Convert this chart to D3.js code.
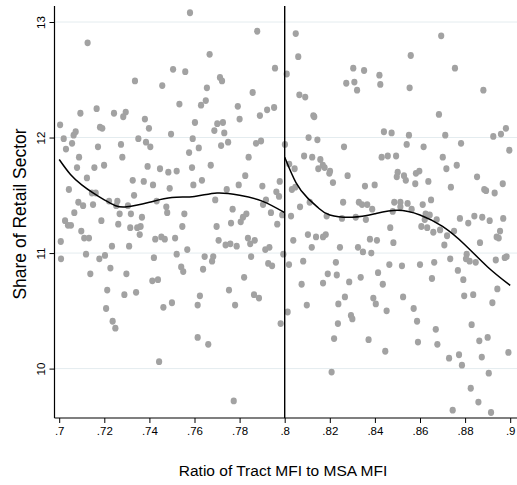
<!DOCTYPE html>
<html>
<head>
<meta charset="utf-8">
<script src="https://cdn.jsdelivr.net/npm/d3@7"></script>
<style>
  body { margin: 0; background: #fff; }
  svg { display: block; font-family: "Liberation Sans", Arial, sans-serif; }
</style>
</head>
<body>
<div id="chart"></div>
<script>
// tract ratio vs share of retail sector
const points = [
  [.7126,12.82],[.7336,12.49],[.7457,12.45],[.7505,12.59],[.7533,12.29],[.7166,12.25],[.7094,12.21],[.7243,12.21],
  [.7295,12.22],[.7284,12.18],[.7380,12.16],[.7004,12.11],[.7181,12.09],[.7191,12.08],[.7398,12.08],[.7073,12.05],
  [.7064,12.02],[.7020,11.99],[.7057,11.95],[.7496,12.03],[.7351,11.99],[.7385,11.96],[.7404,11.92],[.7030,11.90],
  [.7172,11.92],[.7274,11.94],[.7088,11.83],[.7280,11.83],
  [.7580,13.08],[.7878,12.92],[.8049,12.90],[.7667,12.72],[.8060,12.70],[.7559,12.57],[.7957,12.60],[.8009,12.55],
  [.7713,12.52],[.7722,12.49],[.7655,12.43],[.7858,12.39],[.8065,12.37],[.8091,12.35],[.7650,12.32],[.7629,12.28],
  [.7792,12.27],[.7953,12.26],[.7922,12.24],[.7890,12.19],[.7800,12.16],[.8127,12.19],[.8131,12.18],[.7602,12.13],
  [.7701,12.12],[.7726,12.13],[.7688,12.06],[.7732,12.04],[.7592,11.99],[.8106,12.00],[.8145,11.98],[.7749,11.96],
  [.7718,11.93],[.7619,11.91],[.7576,11.87],[.7873,11.95],[.7895,11.97],[.8001,11.94],[.7840,11.83],[.8086,11.84],
  [.8122,11.83],[.8158,11.81],
  [.8694,12.88],[.8559,12.71],[.8755,12.60],[.8304,12.60],[.8352,12.58],[.8420,12.54],[.8273,12.47],[.8309,12.48],
  [.8321,12.41],[.8424,12.46],[.8554,12.43],[.8881,12.41],[.8684,12.20],[.8440,12.05],[.8474,12.04],[.8551,12.02],
  [.8712,12.02],[.8925,12.01],[.8959,12.03],[.8981,12.08],[.8263,11.92],[.8541,11.94],[.8616,11.92],[.8782,11.95],
  [.8996,11.89],[.8430,11.83],[.8457,11.84],[.8494,11.84],[.8701,11.83],
  [.7392,11.75],[.7447,11.73],[.7484,11.70],[.7521,11.71],[.7079,11.74],[.7156,11.74],[.7199,11.76],[.7123,11.65],
  [.7326,11.63],[.7375,11.62],[.7416,11.59],[.7490,11.56],[.7043,11.55],[.7145,11.52],[.7162,11.52],[.7332,11.50],
  [.7085,11.44],[.7106,11.41],[.7150,11.42],[.7221,11.45],[.7258,11.45],[.7253,11.41],[.7305,11.41],[.7432,11.45],
  [.7475,11.40],[.7067,11.35],[.7268,11.34],[.7318,11.34],[.7479,11.35],[.7367,11.31],[.7026,11.28],[.7039,11.24],
  [.7052,11.24],[.7187,11.28],[.7262,11.25],[.7315,11.22],[.7346,11.22],[.7361,11.23],[.7098,11.19],[.7357,11.16],
  [.7111,11.13],[.7132,11.13],[.7426,11.12],[.7453,11.14],[.7468,11.12],[.7514,11.13],[.7007,11.10],[.7234,11.06],
  [.7310,11.06],[.7521,10.99],[.7119,10.99],[.7203,10.98],[.7008,10.95],[.7178,10.95],[.7420,10.96],[.7227,10.87],
  [.7138,10.82],[.7298,10.82],[.7413,10.76],[.7438,10.77],[.7213,10.68],[.7289,10.64],[.7341,10.66],[.7541,10.88],
  [.7589,11.74],[.7672,11.76],[.7595,11.59],[.7633,11.63],[.7825,11.67],[.7796,11.59],[.7743,11.55],[.7901,11.58],
  [.7978,11.62],[.7963,11.53],[.7975,11.49],[.7692,11.46],[.7917,11.46],[.7555,11.34],[.7769,11.38],[.7830,11.34],
  [.7815,11.31],[.7805,11.27],[.7762,11.26],[.7939,11.35],[.7989,11.33],[.7904,11.42],[.7967,11.25],[.7546,11.23],
  [.7698,11.23],[.7707,11.11],[.7738,11.07],[.7759,11.08],[.7787,11.06],[.7837,11.13],[.7847,11.08],[.7867,11.11],
  [.7568,11.03],[.7645,10.97],[.7683,10.97],[.7678,10.93],[.7851,10.97],[.7914,11.03],[.7932,11.05],[.7994,10.99],
  [.7927,10.91],[.7944,10.89],[.7550,10.84],[.7638,10.86],[.7820,10.79],[.7753,10.68],[.7624,10.63],[.7864,10.64],
  [.7886,10.61],
  [.8020,11.77],[.8044,11.73],[.8169,11.76],[.8149,11.73],[.8177,11.74],[.8201,11.71],[.8198,11.69],[.8214,11.61],
  [.8032,11.55],[.8047,11.57],[.8111,11.44],[.8068,11.40],[.8028,11.32],[.8186,11.32],[.8103,11.16],[.8139,11.14],
  [.8170,11.14],[.8182,11.16],[.8038,11.11],[.8120,11.05],[.8245,11.05],[.8019,10.90],[.8082,10.93],[.8227,10.92],
  [.8191,10.82],[.8170,10.74],[.8075,10.73],
  [.8717,11.73],[.8763,11.76],[.8279,11.67],[.8356,11.58],[.8399,11.59],[.8501,11.70],[.8497,11.66],[.8529,11.67],
  [.8537,11.63],[.8579,11.60],[.8582,11.69],[.8597,11.71],[.8637,11.62],[.8737,11.57],[.8853,11.66],[.8885,11.55],
  [.8893,11.54],[.8931,11.52],[.8967,11.60],[.8259,11.44],[.8329,11.44],[.8343,11.42],[.8366,11.42],[.8388,11.38],
  [.8486,11.44],[.8513,11.44],[.8513,11.40],[.8545,11.43],[.8612,11.42],[.8649,11.46],[.8254,11.30],[.8315,11.31],
  [.8360,11.29],[.8479,11.36],[.8563,11.38],[.8625,11.34],[.8643,11.33],[.8621,11.29],[.8674,11.29],[.8777,11.30],
  [.8841,11.32],[.8876,11.31],[.8909,11.28],[.8969,11.30],[.8814,11.26],[.8468,11.22],[.8606,11.23],[.8632,11.22],
  [.8659,11.18],[.8689,11.20],[.8720,11.15],[.8751,11.19],[.8955,11.19],[.8378,11.12],[.8409,11.11],[.8482,11.09],
  [.8708,11.07],[.8866,11.09],[.8940,11.14],[.8949,11.13],[.8325,11.05],[.8347,11.01],[.8384,11.00],[.8464,10.90],
  [.8520,10.89],[.8600,10.90],[.8663,10.92],[.8734,10.95],[.8807,10.99],[.8804,10.95],[.8820,10.93],[.8847,10.92],
  [.8936,10.94],[.8976,10.96],[.8984,10.97],[.8231,10.81],[.8286,10.75],[.8337,10.79],[.8414,10.83],[.8435,10.73],
  [.8653,10.78],[.8768,10.85],[.8792,10.77],[.8943,10.69],[.8267,10.62],[.8393,10.61],[.8525,10.62],[.8796,10.63],
  [.8836,10.64],
  [.7208,10.52],[.7237,10.41],[.7249,10.35],[.7462,10.53],[.7500,10.57],[.7443,10.06],
  [.7614,10.55],[.7780,10.55],[.7614,10.27],[.7661,10.21],[.7774,9.72],[.7982,10.39],[.8013,10.49],[.8098,10.55],
  [.8238,10.56],[.8236,10.39],[.8219,10.26],[.8208,9.97],
  [.8294,10.46],[.8300,10.43],[.8404,10.56],[.8452,10.50],[.8572,10.52],[.8587,10.41],[.8372,10.25],[.8446,10.15],
  [.8591,10.23],[.8670,10.34],[.8677,10.21],[.8729,10.09],[.8773,10.12],[.8786,10.03],[.8829,10.38],[.8921,10.57],
  [.8863,10.24],[.8900,10.27],[.8874,10.10],[.8905,9.96],[.8992,10.14],[.8825,9.83],[.8745,9.64],[.8859,9.71],
  [.8915,9.62]
]

// fitted curves either side of the cutoff
const fitLeftX = [.70, .705, .71, .715, .72, .725, .73, .74, .75, .76, .77, .78, .79, .80]
const fitLeftY = [11.81, 11.68, 11.59, 11.52, 11.46, 11.41, 11.40, 11.44, 11.48, 11.49, 11.52, 11.50, 11.45, 11.35]
const fitRightX = [.80, .805, .81, .815, .82, .83, .84, .85, .86, .87, .88, .89, .90]
const fitRightY = [11.83, 11.61, 11.48, 11.39, 11.33, 11.31, 11.34, 11.37, 11.33, 11.23, 11.07, 10.88, 10.72]

const cutoff = 0.8
const xTicks = [.7, .72, .74, .76, .78, .8, .82, .84, .86, .88, .9]
const yTicks = [10, 11, 12, 13]

const width = 517
const height = 485
const axisX = 54.5   // y axis line
const axisY = 418    // x axis line
const plotTop = 6

const svg = d3.select('#chart').append('svg')
  .attr('width', width)
  .attr('height', height)

const x = d3.scaleLinear().domain([.7, .9]).range([59.2, 510.2])
const y = d3.scaleLinear().domain([10, 13]).range([368.6, 22])

// grid
svg.append('g')
  .selectAll('line')
  .data(yTicks)
  .join('line')
  .attr('x1', axisX)
  .attr('x2', width)
  .attr('y1', d => y(d))
  .attr('y2', d => y(d))
  .attr('stroke', '#e4ecef')
  .attr('stroke-width', 1)

// points
svg.append('g')
  .selectAll('ellipse')
  .data(points)
  .join('ellipse')
  .attr('cx', d => x(d[0]))
  .attr('cy', d => y(d[1]))
  .attr('rx', 3.1)
  .attr('ry', 3.4)
  .attr('fill', '#a2a2a2')

// fitted lines
const line = d3.line()
  .x(d => x(d[0]))
  .y(d => y(d[1]))
  .curve(d3.curveNatural)

svg.append('path')
  .datum(d3.zip(fitLeftX, fitLeftY))
  .attr('d', line)
  .attr('fill', 'none')
  .attr('stroke', '#000')
  .attr('stroke-width', 1.5)

svg.append('path')
  .datum(d3.zip(fitRightX, fitRightY))
  .attr('d', line)
  .attr('fill', 'none')
  .attr('stroke', '#000')
  .attr('stroke-width', 1.5)

// cutoff line
svg.append('line')
  .attr('x1', x(cutoff)).attr('x2', x(cutoff))
  .attr('y1', plotTop).attr('y2', axisY)
  .attr('stroke', '#000')
  .attr('stroke-width', 1.4)

// x axis
const fmt = d => d3.format('.2~f')(d).replace(/^0/, '')
const xAxis = svg.append('g')
  .attr('transform', `translate(0,${axisY})`)
  .call(d3.axisBottom(x).tickValues(xTicks).tickFormat(fmt).tickSizeOuter(0).tickSize(5).tickPadding(4))
xAxis.select('.domain').remove()
xAxis.selectAll('.tick line').attr('stroke', '#000')
xAxis.selectAll('.tick text').attr('font-size', 11.5).attr('fill', '#000')
  .attr('font-family', '"Liberation Sans", Arial, sans-serif')

svg.append('line')
  .attr('x1', axisX).attr('x2', width)
  .attr('y1', axisY).attr('y2', axisY)
  .attr('stroke', '#000').attr('stroke-width', 1.2)

// y axis
const yAxis = svg.append('g')
  .attr('transform', `translate(${axisX},0)`)
  .call(d3.axisLeft(y).tickValues(yTicks).tickSizeOuter(0).tickSize(5))
yAxis.select('.domain').remove()
yAxis.selectAll('.tick line').attr('stroke', '#000')
yAxis.selectAll('.tick text').remove()
yAxis.selectAll('.tick')
  .append('text')
  .attr('transform', 'translate(-10,0) rotate(-90)')
  .attr('text-anchor', 'middle')
  .attr('font-size', 11.5)
  .attr('fill', '#000')
  .attr('font-family', '"Liberation Sans", Arial, sans-serif')
  .text(d => d)

svg.append('line')
  .attr('x1', axisX).attr('x2', axisX)
  .attr('y1', plotTop).attr('y2', axisY)
  .attr('stroke', '#000').attr('stroke-width', 1.2)

// titles
svg.append('text')
  .attr('x', 283)
  .attr('y', 476)
  .attr('text-anchor', 'middle')
  .attr('font-size', 15.5)
  .text('Ratio of Tract MFI to MSA MFI')

svg.append('text')
  .attr('transform', 'translate(26,214) rotate(-90)')
  .attr('text-anchor', 'middle')
  .attr('font-size', 17.5)
  .text('Share of Retail Sector')
</script>
</body>
</html>
